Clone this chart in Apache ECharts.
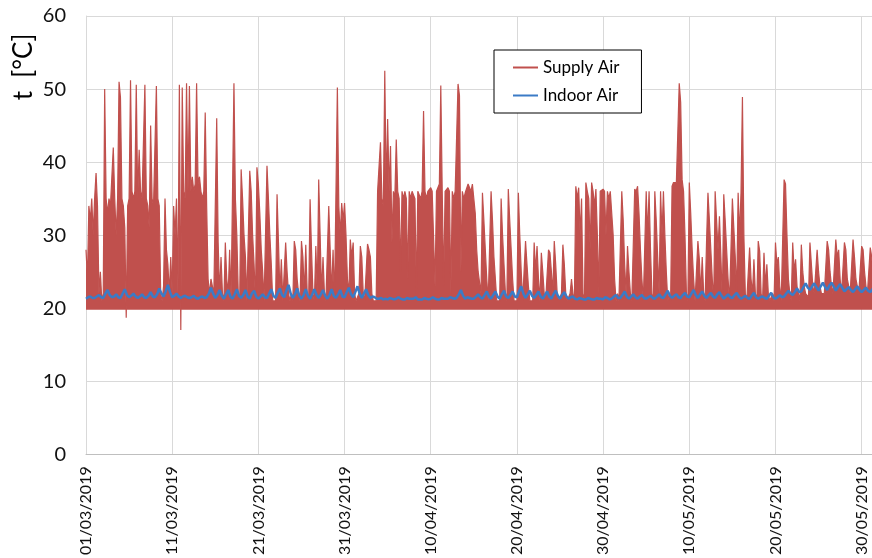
<!DOCTYPE html>
<html>
<head>
<meta charset="utf-8">
<script src="https://cdn.jsdelivr.net/npm/echarts@6/dist/echarts.min.js"></script>
<style>
html,body{margin:0;padding:0;background:#fff;}
#chart{width:872px;height:558px;}
</style>
</head>
<body>
<div id="chart"></div>
<script>
// X tick labels (one every 10 days, starting 01/03/2019)
const xTickLabels = ['01/03/2019','11/03/2019','21/03/2019','31/03/2019','10/04/2019','20/04/2019','30/04/2019','10/05/2019','20/05/2019','30/05/2019'];
const yTicks = [0,10,20,30,40,50,60];
const seriesNames = ['Supply Air','Indoor Air'];

// Supply air temperature, 6 readings per day (every 4 h), day 0 = 01/03/2019
const supplyAir = [
28,24,34,32,35,30,  35,38.5,34,22,25,21,  22,50,35,33,35,34,  34,42,35,30,35,51,
48.8,35,34,31,18.7,34,  35,51.2,36,35,36,50.6,  35,41.7,36,35,35,50.6,  35,34,31,45,35,34,
34,50.4,35,34,22,21,  23,35,28,26,22,27,  22,34,30,35,22,50.6,  17,50.2,36,35,50.8,36,
50.4,36,38,36,37,50.8,  37,38,36,35,36,46.8,  34,24,22,24,23,22,  22,46,29,22,27,22,
21,29,24,22,28,21,  21,50.8,35,30,22,21,  39,35,30,27,21,21,  38.8,36,30,26,21,39.3,
37,33,28,25,21,21,  39.5,35,30,26,21,21,  21,35.6,29,22,26.7,21,  21,29,25,22,21,22,
21,29.2,28,24,22,21,  29.2,27,22,28.7,22,21,  34.9,28,22,21,28.5,22,  37.6,30,22,27,22,21,
21,34,28,22,28,21,  21,50.2,34,30,34.4,32,  34.4,30,24,22,29.4,27,  29,22,21,21,22,28.5,
27,22,21,21,28.8,28,  27,22,21,21,21,36,  36,42.7,35,34,52.5,36,  45.9,36,42.2,29,36,35,
43.1,36,35,25,36,35,  36,35,24,36,35,36,  36,35,22,36,36,35,  36,47,36,35,36,36,
36.5,36,36,23,36,36,  37,50.5,36,23,36,36,  36.5,36,22,36,35,36,  36,50.7,49.1,25,36,35,
35.8,36,37,37.2,36,37,  37,33,28,25,25,22,  35.8,32,28,24,21,21,  36,32,27,24,21,21,
21,35,30,26,22,21,  36.3,32,28,24,21,21,  21,35.8,30,25,21,21,  29.2,26,23,21,21,21,
29,25,28.5,24,21,27.6,  25,22,21,21,28,27.6,  25,22,29.2,26,22,21,  21,22,28.7,26,22,21,
21,22,24,22,21,36.7,  35,36.5,30,35,22,21,  37.2,36,35,28,37.2,36,  34,36.3,30,22,36,36,
36.3,36,30,36,35,36,  36,30,24,21,22,21,  21,36,32,26,22,28.5,  25,22,21,21,36.3,36,
36.7,33,28,24,21,21,  36,30,36,28,22,21,  36,32,27,22,36,30,  36,30,25,21,22,21,
36.7,37.2,37,37.2,37,50.8,  48.2,37.6,36,30,22,21,  37.2,33,28,24,21,21,  29.2,26.7,22,27,22,21,
29,35.8,32,28,24,21,  36,32,28,32.6,27,21,  35.6,32,28,24,21,21,  35,31,27,22,35.8,30,
35.8,48.9,30,22,21,21,  28.3,24,22,26.7,22,21,  29.2,27.8,22,21,27.6,23,  26,22,21,21,22,21,
29,26,27,23,21,21,  37.6,37,30,24,22,21,  29,25,26.7,23,22,21,  28.7,25,23,22,22,21.5,
29,26,23,22,22,28,  25,23,22,22,22,22,  29.2,28,25,23,22,22,  29.4,27,28,24,22,22,
29,28,24,23,22,22,  29.4,27,24,23,22,22,  28.5,28,25,23,22,22,  28.3,27,24,23,22,22
];

// Indoor air temperature, 4 readings per day (every 6 h)
const indoorAir = [
21.3,21.5,21.6,21.4, 21.4,21.6,21.8,21.5, 21.4,22.0,22.5,21.8, 21.5,21.6,21.9,21.5,
21.4,22.0,22.6,21.8, 21.5,21.7,22.0,21.6, 21.4,21.6,21.9,21.5, 21.4,21.7,22.2,21.6,
21.5,21.9,22.7,22.0, 21.6,22.3,23.2,22.2, 21.5,21.7,22.0,21.6, 21.4,21.6,21.7,21.5,
21.4,21.5,21.7,21.4, 21.3,21.5,21.6,21.4, 21.5,22.0,22.8,22.0, 21.4,21.8,22.5,21.7,
21.3,21.9,22.5,21.6, 21.3,21.9,22.6,21.7, 21.4,21.8,22.5,21.6, 21.3,22.0,22.4,21.6,
21.3,21.6,21.9,21.5, 21.4,22.0,22.6,21.7, 21.4,22.1,22.7,21.8, 21.5,22.4,23.2,22.0,
21.4,21.9,22.7,21.7, 21.3,21.8,22.6,21.7, 21.3,21.9,22.6,21.8, 21.4,21.9,22.5,21.7,
21.3,21.8,22.6,21.7, 21.4,21.9,22.5,21.6, 21.5,22.2,22.8,21.9, 21.5,22.2,23.0,22.0,
21.4,22.0,22.6,21.8, 21.4,21.6,21.5,21.3, 21.3,21.4,21.2,21.3, 21.2,21.4,21.3,21.2,
21.3,21.5,21.3,21.2, 21.2,21.4,21.3,21.3, 21.3,21.5,21.2,21.2, 21.2,21.4,21.3,21.2,
21.3,21.5,21.3,21.2, 21.2,21.4,21.3,21.3, 21.3,21.5,21.4,21.3, 21.4,21.9,22.5,21.7,
21.3,21.5,21.4,21.3, 21.3,21.6,21.9,21.5, 21.3,21.8,22.3,21.6, 21.3,21.8,22.3,21.6,
21.3,21.9,22.4,21.6, 21.4,21.8,22.3,21.6, 21.5,22.3,23.0,22.0, 21.4,21.9,22.4,21.7,
21.4,21.8,22.3,21.6, 21.3,21.8,22.3,21.6, 21.3,21.9,22.4,21.7, 21.3,21.8,22.2,21.6,
21.3,21.5,21.6,21.3, 21.2,21.4,21.3,21.2, 21.2,21.4,21.3,21.2, 21.2,21.4,21.3,21.3,
21.2,21.5,21.4,21.2, 21.3,21.6,21.8,21.4, 21.4,21.8,22.3,21.6, 21.3,21.6,21.9,21.5,
21.3,21.6,21.8,21.4, 21.3,21.5,21.7,21.4, 21.3,21.6,21.9,21.5, 21.4,21.9,22.4,21.7,
21.4,21.7,21.9,21.5, 21.4,21.8,22.1,21.6, 21.5,22.0,22.5,21.8, 21.4,21.9,22.3,21.7,
21.4,21.8,22.1,21.6, 21.4,21.9,22.2,21.7, 21.3,21.6,21.9,21.5, 21.4,21.8,22.1,21.6,
21.3,21.5,21.7,21.4, 21.3,21.7,22.1,21.5, 21.3,21.5,21.6,21.4, 21.3,21.7,22.1,21.5,
21.3,21.5,21.8,21.5, 21.6,22.0,22.4,22.0, 21.8,22.2,22.7,22.2, 22.3,22.9,23.4,22.8,
22.5,23.0,23.4,22.9, 22.4,23.0,23.5,22.9, 22.5,23.1,23.5,23.0, 22.4,22.9,23.3,22.8,
22.3,22.6,22.9,22.5, 22.2,22.6,23.0,22.5, 22.2,22.5,22.8,22.4, 22.2,22.6,22.9,22.4
];

const FONT = 'Lato, "Liberation Sans", sans-serif';
const supplyData = supplyAir.map((v, i) => [i / 6, v]);
const indoorData = indoorAir.map((v, i) => [i / 4, v]);

const chart = echarts.init(document.getElementById('chart'), null, {renderer: 'canvas'});
chart.setOption({
  animation: false,
  backgroundColor: '#fff',
  grid: {left: 86, right: 0, top: 16, bottom: 103, containLabel: false},
  graphic: [{
    type: 'text', x: 24, y: 67, rotation: Math.PI / 2,
    style: {text: 't  [°C]', font: '26px ' + FONT, fill: '#000', align: 'center', verticalAlign: 'middle'}
  }],
  legend: {
    orient: 'vertical', left: 494, top: 50,
    padding: [8, 22, 8, 19], itemGap: 9, itemWidth: 25, itemHeight: 2,
    icon: 'rect',
    backgroundColor: '#fff', borderColor: '#000', borderWidth: 1, borderRadius: 0,
    textStyle: {fontSize: 17, color: '#000', fontFamily: FONT, lineHeight: 19},
    data: seriesNames
  },
  xAxis: {
    type: 'value', min: 0, max: 91.2, interval: 10,
    axisLine: {show: true, lineStyle: {color: '#bfbfbf', width: 1}},
    axisTick: {show: false},
    splitLine: {show: true, lineStyle: {color: '#d9d9d9', width: 1}},
    axisLabel: {
      rotate: 90, margin: 12, fontSize: 16, color: '#111', fontFamily: FONT,
      showMaxLabel: false,
      formatter: v => (Math.abs(v % 10) < 1e-6 ? (xTickLabels[Math.round(v / 10)] || '') : '')
    }
  },
  yAxis: {
    type: 'value', min: yTicks[0], max: yTicks[yTicks.length - 1], interval: 10,
    axisLine: {show: true, lineStyle: {color: '#d9d9d9', width: 1}},
    axisTick: {show: false},
    splitLine: {show: true, lineStyle: {color: '#d9d9d9', width: 1}},
    axisLabel: {margin: 20, fontSize: 20, color: '#111', fontFamily: FONT}
  },
  series: [
    {
      name: seriesNames[0], type: 'line', data: supplyData, symbol: 'none',
      lineStyle: {color: '#C0504D', width: 1.2},
      itemStyle: {color: '#C0504D'},
      areaStyle: {color: '#C0504D', opacity: 1, origin: 19.8},
      z: 2
    },
    {
      name: seriesNames[1], type: 'line', data: indoorData, symbol: 'none',
      lineStyle: {color: '#3B7BC6', width: 2.5},
      itemStyle: {color: '#3B7BC6'},
      z: 3
    }
  ]
});
</script>
</body>
</html>
